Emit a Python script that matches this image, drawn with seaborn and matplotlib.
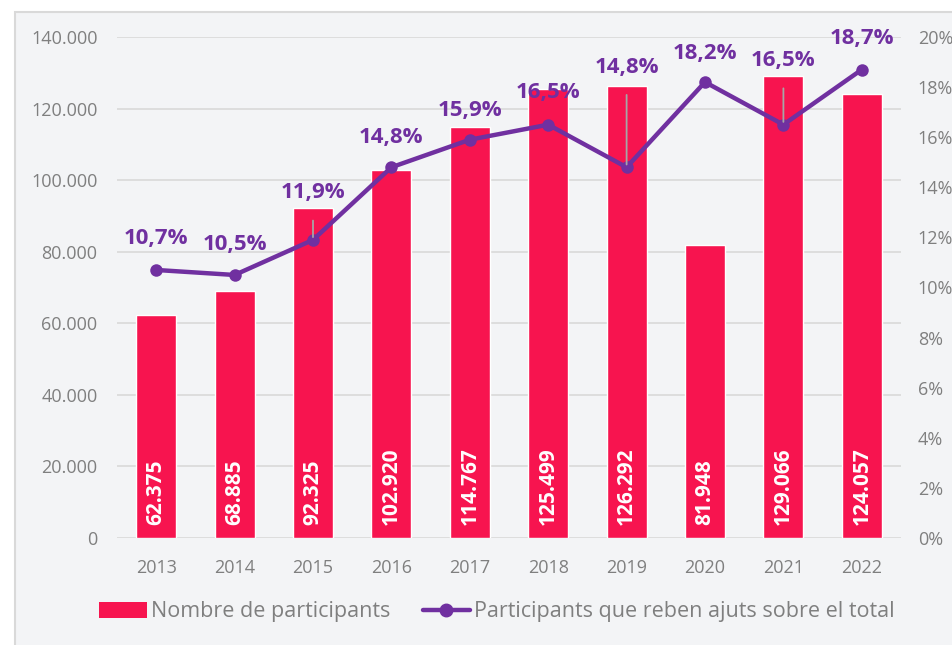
import matplotlib.pyplot as plt
import matplotlib.patches as mpatches
from matplotlib.lines import Line2D
from matplotlib.ticker import FuncFormatter, MultipleLocator
import numpy as np
import pandas as pd
import seaborn as sns

years = ["2013", "2014", "2015", "2016", "2017", "2018", "2019", "2020", "2021", "2022"]
participants = [62375, 68885, 92325, 102920, 114767, 125499, 126292, 81948, 129066, 124057]
pct_ajuts = [10.7, 10.5, 11.9, 14.8, 15.9, 16.5, 14.8, 18.2, 16.5, 18.7]

bar_label = "Nombre de participants"
line_label = "Participants que reben ajuts sobre el total"

# distancia (px) de cada etiqueta de % sobre el seu punt
label_lift = [31, 30, 47, 30, 29, 32, 100, 29, 64, 31]

BAR_COLOR = "#F7144F"
LINE_COLOR = "#7030A0"
TEXT_GRAY = "#7F7F7F"
GRID_GRAY = "#D9D9D9"

sns.set_theme(style="white")
plt.rcParams["font.family"] = ["Open Sans", "DejaVu Sans"]

df = pd.DataFrame({"year": years, "participants": participants, "pct": pct_ajuts})

fig = plt.figure(figsize=(9.53, 6.45), dpi=100)
fig.patch.set_facecolor("white")
fig.patches.append(mpatches.Rectangle((15 / 953, -0.02), 1.0, 1 - 12 / 645 + 0.02,
                                      transform=fig.transFigure, facecolor="#F3F4F6",
                                      edgecolor=GRID_GRAY, linewidth=1.5, zorder=-10))

ax = fig.add_axes([117 / 953, 1 - 538 / 645, (901 - 117) / 953, (538 - 37) / 645])
ax.set_facecolor("none")
sns.barplot(data=df, x="year", y="participants", color=BAR_COLOR, width=0.51,
            saturation=1, ax=ax, zorder=2)
ax.set_ylim(0, 140000)
ax.set_xlim(-0.5, len(years) - 0.5)
ax.yaxis.set_major_locator(MultipleLocator(20000))
ax.yaxis.set_major_formatter(FuncFormatter(lambda v, p: f"{int(v):,}".replace(",", ".")))
ax.grid(axis="y", color=GRID_GRAY, linewidth=1.2, zorder=0)
ax.set_axisbelow(True)
ax.set_xlabel("")
ax.set_ylabel("")
for s in ax.spines.values():
    s.set_visible(False)
ax.tick_params(axis="y", length=0, pad=14, labelsize=13, labelcolor=TEXT_GRAY)
ax.tick_params(axis="x", length=0, pad=15, labelsize=13, labelcolor=TEXT_GRAY)

for i, v in enumerate(participants):
    ax.annotate(f"{v:,}".replace(",", "."), xy=(i, 0), xytext=(0, 9.5),
                textcoords="offset points", rotation=90, ha="center", va="bottom",
                color="white", fontsize=15, fontweight="bold", zorder=3)

ax2 = ax.twinx()
ax2.set_facecolor("none")
sns.lineplot(x=np.arange(len(years)), y=pct_ajuts, ax=ax2, color=LINE_COLOR,
             linewidth=3.2, marker="o", markersize=9, markeredgewidth=0, zorder=4)
ax2.set_ylim(0, 20)
ax2.set_xlim(-0.5, len(years) - 0.5)
ax2.yaxis.set_major_locator(MultipleLocator(2))
ax2.yaxis.set_major_formatter(FuncFormatter(lambda v, p: f"{int(round(v))}%"))
ax2.tick_params(axis="y", length=0, pad=12, labelsize=13, labelcolor=TEXT_GRAY)
ax2.set_ylabel("")
for s in ax2.spines.values():
    s.set_visible(False)

for i, v in enumerate(pct_ajuts):
    lift = label_lift[i] * 0.72
    txt = f"{v:.1f}".replace(".", ",") + "%"
    arrow = None
    if label_lift[i] > 40:
        arrow = dict(arrowstyle="-", color="#A6A6A6", linewidth=1.3, shrinkA=10, shrinkB=2)
    ax2.annotate(txt, xy=(i, v), xytext=(0, lift), textcoords="offset points",
                 ha="center", va="center", color=LINE_COLOR, fontsize=16,
                 fontweight="bold", arrowprops=arrow, zorder=5)

handles = [mpatches.Patch(facecolor=BAR_COLOR, edgecolor="none"),
           Line2D([0], [0], color=LINE_COLOR, linewidth=3.2, marker="o", markersize=9)]
fig.legend(handles, [bar_label, line_label], loc="center",
           bbox_to_anchor=(497 / 953, 1 - 612 / 645), ncol=2, frameon=False,
           fontsize=15.5, labelcolor=TEXT_GRAY, handlelength=2.2, handleheight=0.7,
           handletextpad=0.2, columnspacing=1.5)

fig.savefig("out.png", dpi=100)
